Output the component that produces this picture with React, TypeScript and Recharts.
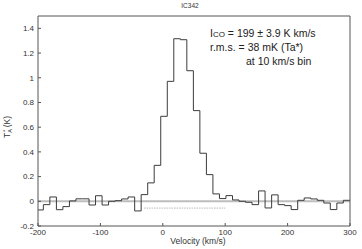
import { LineChart, Line, XAxis, YAxis, ReferenceLine } from 'recharts'

// left edge of every channel (km/s); the first one is cut by the axis at -200
const binStarts = [
    -200, -191.4, -181.0, -170.5, -160.1, -149.6, -139.2, -128.7, -118.2, -107.8,
    -97.3, -86.9, -76.5, -66.0, -55.6, -45.1, -34.7, -24.2, -13.8, -3.3,
    7.2, 17.6, 28.1, 38.5, 49.0, 59.4, 69.9, 80.3, 90.8, 101.2,
    111.7, 122.1, 132.6, 143.0, 153.5, 163.9, 174.4, 184.8, 195.3, 205.7,
    216.2, 226.6, 237.1, 247.5, 258.0, 268.4, 278.9, 289.3,
]
// antenna temperature Ta* (K) in each channel
const antennaTemp = [
    -0.07, -0.027, 0.035, -0.068, -0.043, 0.003, 0.02, 0.02, -0.03, 0.045,
    -0.03, 0.0, 0.005, 0.019, 0.035, -0.078, 0.054, 0.149, 0.291, 0.688,
    0.971, 1.316, 1.308, 1.057, 0.734, 0.389, 0.216, 0.06, 0.022, 0.046,
    0.011, 0.0, -0.008, -0.027, 0.084, -0.054, 0.052, -0.027, -0.035, -0.067,
    0.008, 0.027, 0.019, 0.008, -0.014, -0.067, -0.014, 0.008,
]
const velocityEnd = 300

const velocityTicks = [-200, -100, 0, 100, 200, 300]
const tempTicks = [-0.2, 0, 0.2, 0.4, 0.6, 0.8, 1, 1.2, 1.4]

// window used for the integrated intensity, drawn as a dashed marker
const integrationRange = [-30, 100]
const markerLevel = -0.055

const spectrum = binStarts.map((v, i) => ({ v, t: antennaTemp[i] }))
// close the last channel at the right edge
spectrum.push({ v: velocityEnd, t: antennaTemp[antennaTemp.length - 1] })

const FONT = '"Liberation Sans", Arial, sans-serif'
const AXIS = '#555'
const tickStyle = { fontSize: 8, fill: '#333', fontFamily: FONT }

export default function App() {
    return (
        <div style={{ position: 'absolute', left: 0, top: 0, width: 362, height: 249, background: '#fff' }}>
            <LineChart
                width={362}
                height={249}
                data={spectrum}
                margin={{ top: 15, right: 11, bottom: 0, left: 0 }}
            >
                <XAxis
                    dataKey="v"
                    type="number"
                    domain={[-200, 300]}
                    ticks={velocityTicks}
                    interval={0}
                    height={23}
                    tickSize={-3}
                    tickMargin={6}
                    stroke={AXIS}
                    tick={tickStyle}
                />
                <XAxis
                    xAxisId="top"
                    orientation="top"
                    dataKey="v"
                    type="number"
                    domain={[-200, 300]}
                    ticks={velocityTicks}
                    interval={0}
                    height={1}
                    tickSize={-3}
                    tick={false}
                    stroke={AXIS}
                />
                <YAxis
                    type="number"
                    domain={[-0.2, 1.5]}
                    ticks={tempTicks}
                    interval={0}
                    width={38}
                    tickSize={-3}
                    tickMargin={7}
                    stroke={AXIS}
                    tick={tickStyle}
                />
                <YAxis
                    yAxisId="right"
                    orientation="right"
                    type="number"
                    domain={[-0.2, 1.5]}
                    ticks={tempTicks}
                    interval={0}
                    width={1}
                    tickSize={-3}
                    tick={false}
                    stroke={AXIS}
                />
                <ReferenceLine y={0} stroke="#bdbdbd" strokeWidth={2} />
                <ReferenceLine
                    segment={[
                        { x: integrationRange[0], y: markerLevel },
                        { x: integrationRange[1], y: markerLevel },
                    ]}
                    stroke="#9a9a9a"
                    strokeWidth={0.7}
                    strokeDasharray="1.5 1"
                />
                <Line
                    type="stepAfter"
                    dataKey="t"
                    stroke="#3c3c3c"
                    strokeWidth={1}
                    dot={false}
                    activeDot={false}
                    isAnimationActive={false}
                />
            </LineChart>
            <svg
                width={362}
                height={249}
                style={{ position: 'absolute', left: 0, top: 0, pointerEvents: 'none' }}
                fontFamily={FONT}
            >
                <text x={190} y={7.5} fontSize={6.5} textAnchor="middle" fill="#333">IC342</text>
                <text x={210} y={36.5} fontSize={10.5} fill="#222">
                    I<tspan fontSize={8}>CO</tspan> = 199 ± 3.9 K km/s
                </text>
                <text x={210} y={50.5} fontSize={10.5} fill="#222">r.m.s. = 38 mK (Ta*)</text>
                <text x={246} y={65} fontSize={10.5} fill="#222">at 10 km/s bin</text>
                <text transform="translate(10,127) rotate(-90)" fontSize={8.5} textAnchor="middle" fill="#333">
                    T<tspan fontSize={5.5} dy={2}>A</tspan>
                    <tspan fontSize={6} dx={-3} dy={-5}>*</tspan>
                    <tspan dy={3}> (K)</tspan>
                </text>
                <text x={198} y={244} fontSize={8.5} textAnchor="middle" fill="#333">Velocity (km/s)</text>
            </svg>
        </div>
    )
}
